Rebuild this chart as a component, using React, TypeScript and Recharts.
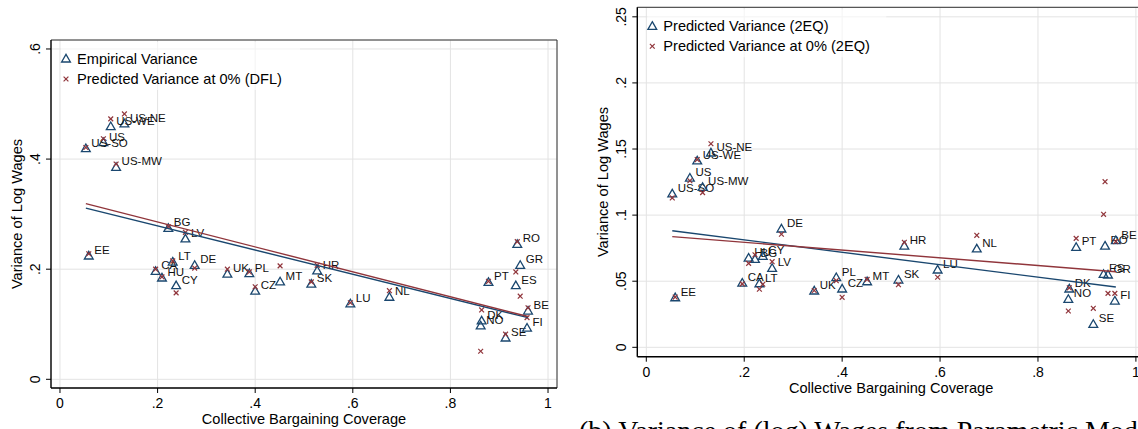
import React from 'react'
import { ScatterChart, Scatter, XAxis, YAxis, CartesianGrid, ReferenceLine } from 'recharts'

const NAVY = '#1a476f'
const MAROON = '#90353b'
const GRID = '#e3e3e3'
const FONT = '"Liberation Sans", Arial, Helvetica, sans-serif'

const countries = [
  'US-NE', 'US-WE', 'US', 'US-SO', 'US-MW', 'EE', 'BG', 'LV', 'CA', 'HU',
  'LT', 'CY', 'DE', 'UK', 'PL', 'CZ', 'MT', 'SK', 'HR', 'LU',
  'NL', 'PT', 'DK', 'NO', 'SE', 'RO', 'ES', 'GR', 'BE', 'FI',
]
const coverage = [
  0.132, 0.104, 0.089, 0.053, 0.115, 0.059, 0.222, 0.257, 0.196, 0.209,
  0.231, 0.238, 0.276, 0.343, 0.388, 0.4, 0.451, 0.515, 0.527, 0.595,
  0.675, 0.878, 0.864, 0.862, 0.913, 0.937, 0.934, 0.943, 0.959, 0.957,
]

// panel (a): empirical vs DFL counterfactual
const empiricalVar = [
  0.464, 0.459, 0.43, 0.419, 0.385, 0.224, 0.274, 0.255, 0.196, 0.184,
  0.213, 0.17, 0.207, 0.191, 0.192, 0.16, 0.177, 0.173, 0.197, 0.137,
  0.149, 0.176, 0.106, 0.097, 0.075, 0.245, 0.17, 0.207, 0.124, 0.093,
]
const predictedDFL = [
  0.482, 0.473, 0.437, 0.421, 0.391, 0.228, 0.277, 0.267, 0.2, 0.186,
  0.215, 0.157, 0.202, 0.2, 0.195, 0.168, 0.206, 0.177, 0.207, 0.139,
  0.161, 0.178, 0.126, 0.051, 0.082, 0.25, 0.195, 0.151, 0.13, 0.112,
]

// panel (b): parametric model
const predicted2EQ = [
  0.147, 0.141, 0.128, 0.116, 0.121, 0.0375, 0.0665, 0.0597, 0.0486, 0.0675,
  0.0481, 0.0688, 0.0895, 0.0426, 0.0527, 0.0441, 0.0496, 0.0509, 0.0766, 0.0585,
  0.0744, 0.0756, 0.0441, 0.0363, 0.0174, 0.0766, 0.0552, 0.0547, 0.0807, 0.035,
]
const predicted2EQZero = [
  0.154, 0.142, 0.126, 0.113, 0.117, 0.038, 0.07, 0.0648, 0.048, 0.0635,
  0.0439, 0.0477, 0.0855, 0.043, 0.0504, 0.0378, 0.0514, 0.0474, 0.0794, 0.053,
  0.0847, 0.0824, 0.045, 0.0275, 0.0295, 0.1253, 0.1006, 0.0408, 0.08, 0.0408,
]

// linear fit endpoints
const fitX = [0.053, 0.959]
const fitEmpirical = [0.311, 0.112]
const fitDFL = [0.319, 0.114]
const fit2EQ = [0.0882, 0.0456]
const fit2EQZero = [0.0837, 0.0572]

const xTicks = [0, 0.2, 0.4, 0.6, 0.8, 1]
const yTicksA = [0, 0.2, 0.4, 0.6]
const yTicksB = [0, 0.05, 0.1, 0.15, 0.2, 0.25]

const points = (ys: number[]) => countries.map((name, i) => ({ name, x: coverage[i], y: ys[i] }))
const fitLine = (ys: number[]) => fitX.map((x, i) => ({ x, y: ys[i] }))

const fmt = (v: number) => (v === 0 ? '0' : Number(v.toFixed(3)).toString().replace(/^0\./, '.'))

const Triangle = (props: any) => {
  const { cx, cy, payload } = props
  if (cx == null || cy == null) return <g />
  return (
    <g>
      <polygon
        points={`${cx},${cy - 4.6} ${cx + 4.4},${cy + 3} ${cx - 4.4},${cy + 3}`}
        fill="none"
        stroke={NAVY}
        strokeWidth={1.3}
      />
      <text x={cx + 5.5} y={cy - 2} fontSize={11.5} fill="#111">
        {payload.name}
      </text>
    </g>
  )
}

const Cross = (props: any) => {
  const { cx, cy } = props
  if (cx == null || cy == null) return <g />
  const r = 2.4
  return (
    <g stroke={MAROON} strokeWidth={1.2}>
      <line x1={cx - r} y1={cy - r} x2={cx + r} y2={cy + r} />
      <line x1={cx - r} y1={cy + r} x2={cx + r} y2={cy - r} />
    </g>
  )
}

const Nothing = () => <g />

const YTick = (props: any) => {
  const { x, y, payload } = props
  return (
    <text x={x} y={y} transform={`rotate(-90 ${x} ${y})`} textAnchor="middle" fontSize={14} fill="#000">
      {fmt(payload.value)}
    </text>
  )
}

interface PanelProps {
  left: number
  width: number
  plotLeft: number
  plotTop: number
  plotRight: number
  bottomMargin: number
  yDomain: [number, number]
  yTicks: number[]
  tri: number[]
  cross: number[]
  fitTri: number[]
  fitCross: number[]
  legend: [string, string]
}

const X_DOMAIN: [number, number] = [-0.0184, 1.0184]

function Panel(p: PanelProps) {
  const height = 429
  const plotBottom = height - 41 - p.bottomMargin
  const midX = (p.plotLeft + p.plotRight) / 2
  const midY = (p.plotTop + plotBottom) / 2
  return (
    <div style={{ position: 'absolute', left: p.left, top: 0, width: p.width, height }}>
      <ScatterChart
        width={p.width}
        height={height}
        margin={{ top: p.plotTop, right: p.width - p.plotRight, left: 0, bottom: p.bottomMargin }}
      >
        <CartesianGrid stroke={GRID} strokeWidth={1} />
        <XAxis
          type="number"
          dataKey="x"
          domain={X_DOMAIN}
          ticks={xTicks}
          interval={0}
          allowDataOverflow
          height={41}
          tickSize={5}
          tickMargin={5}
          tickFormatter={fmt}
          tick={{ fontSize: 14, fill: '#000' }}
          axisLine={{ stroke: '#000', strokeWidth: 1.4 }}
          tickLine={{ stroke: '#000' }}
        />
        <YAxis
          type="number"
          dataKey="y"
          domain={p.yDomain}
          ticks={p.yTicks}
          interval={0}
          allowDataOverflow
          width={p.plotLeft}
          tickSize={5}
          tickMargin={6}
          tick={<YTick />}
          axisLine={{ stroke: '#000', strokeWidth: 1.4 }}
          tickLine={{ stroke: '#000' }}
        />
        <ReferenceLine y={p.yDomain[1]} stroke="#333" strokeWidth={1} />
        <ReferenceLine x={X_DOMAIN[1]} stroke="#333" strokeWidth={1} />
        <Scatter data={points(p.tri)} shape={Triangle} isAnimationActive={false} />
        <Scatter data={points(p.cross)} shape={Cross} isAnimationActive={false} />
        <Scatter
          data={fitLine(p.fitTri)}
          line={{ stroke: NAVY, strokeWidth: 1.4 }}
          shape={Nothing}
          isAnimationActive={false}
        />
        <Scatter
          data={fitLine(p.fitCross)}
          line={{ stroke: MAROON, strokeWidth: 1.4 }}
          shape={Nothing}
          isAnimationActive={false}
        />
      </ScatterChart>
      <svg
        width={p.width}
        height={height}
        style={{ position: 'absolute', left: 0, top: 0, pointerEvents: 'none' }}
      >
        <rect x={p.plotLeft + 10} y={p.plotTop + 2} width={239} height={48} fill="#fff" fillOpacity={0.6} />
        <polygon
          points={`${p.plotLeft + 15},${p.plotTop + 14.4} ${p.plotLeft + 19.4},${p.plotTop + 22} ${p.plotLeft + 10.6},${p.plotTop + 22}`}
          fill="none"
          stroke={NAVY}
          strokeWidth={1.3}
        />
        <g stroke={MAROON} strokeWidth={1.2}>
          <line x1={p.plotLeft + 12.6} y1={p.plotTop + 36.6} x2={p.plotLeft + 17.4} y2={p.plotTop + 41.4} />
          <line x1={p.plotLeft + 12.6} y1={p.plotTop + 41.4} x2={p.plotLeft + 17.4} y2={p.plotTop + 36.6} />
        </g>
        <text x={p.plotLeft + 26} y={p.plotTop + 24} fontSize={14.6} fill="#000">
          {p.legend[0]}
        </text>
        <text x={p.plotLeft + 26} y={p.plotTop + 44} fontSize={14.6} fill="#000">
          {p.legend[1]}
        </text>
        <text
          x={p.plotLeft - 29}
          y={midY}
          transform={`rotate(-90 ${p.plotLeft - 29} ${midY})`}
          textAnchor="middle"
          fontSize={14.6}
          fill="#000"
        >
          Variance of Log Wages
        </text>
        <text x={midX} y={plotBottom + 36} textAnchor="middle" fontSize={14.6} fill="#000">
          Collective Bargaining Coverage
        </text>
      </svg>
    </div>
  )
}

export default function App() {
  return (
    <div
      style={{
        position: 'fixed',
        left: 0,
        top: 0,
        width: 1138,
        height: 429,
        overflow: 'hidden',
        background: '#fff',
        fontFamily: FONT,
      }}
    >
      <Panel
        left={0}
        width={570}
        plotLeft={51}
        plotTop={40}
        plotRight={557}
        bottomMargin={0}
        yDomain={[-0.0158, 0.6163]}
        yTicks={yTicksA}
        tri={empiricalVar}
        cross={predictedDFL}
        fitTri={fitEmpirical}
        fitCross={fitDFL}
        legend={['Empirical Variance', 'Predicted Variance at 0% (DFL)']}
      />
      <Panel
        left={570}
        width={580}
        plotLeft={67.3}
        plotTop={7.3}
        plotRight={574.9}
        bottomMargin={31.3}
        yDomain={[-0.0071, 0.2572]}
        yTicks={yTicksB}
        tri={predicted2EQ}
        cross={predicted2EQZero}
        fitTri={fit2EQ}
        fitCross={fit2EQZero}
        legend={['Predicted Variance (2EQ)', 'Predicted Variance at 0% (2EQ)']}
      />
      <svg width={1138} height={429} style={{ position: 'absolute', left: 0, top: 0, pointerEvents: 'none' }}>
        <text x={579} y={440} fontFamily='"Liberation Serif", "Times New Roman", serif' fontSize={28} fill="#000">
          (b) Variance of (log) Wages from Parametric Model
        </text>
      </svg>
    </div>
  )
}
